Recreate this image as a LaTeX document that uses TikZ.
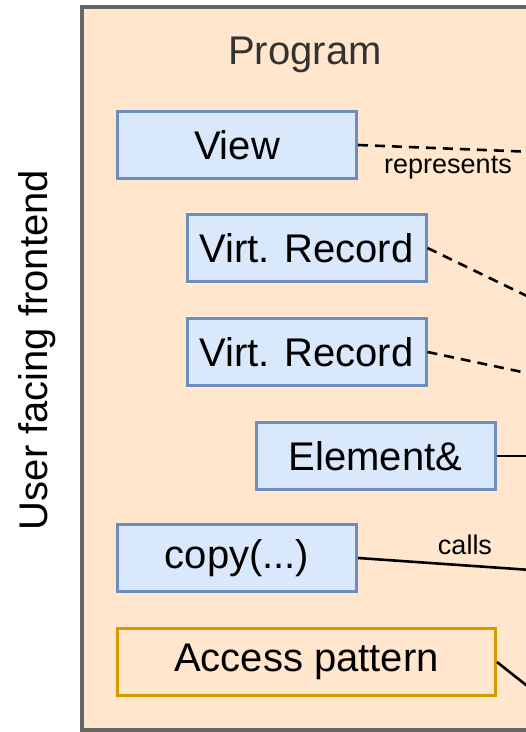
\documentclass[tikz,border=0pt]{standalone}
\usepackage{fontspec}
\setmainfont{Liberation Sans}
\usepackage{xcolor}
\usetikzlibrary{positioning,calc}

\definecolor{progfill}{HTML}{FFE6CC}
\definecolor{progline}{HTML}{666666}
\definecolor{boxfill}{HTML}{DAE8FC}
\definecolor{boxline}{HTML}{6C8EBF}
\definecolor{patline}{HTML}{D79B00}

\begin{document}
\begin{tikzpicture}[x=1pt, y=-1pt,
    box/.style={rectangle, draw=boxline, fill=boxfill, line width=3pt, minimum width=239pt, minimum height=67pt, inner sep=0pt, font=\fontsize{40}{48}\selectfont},
    patbox/.style={box, draw=patline, fill=progfill, minimum width=378pt},
    link/.style={line width=2.6pt, black},
    dlink/.style={link, dash pattern=on 10pt off 7pt},
    lbl/.style={font=\fontsize{27}{32}\selectfont, inner sep=0pt}
]
\clip (0,0) rectangle (526,732);

% Frame
\draw[progline, fill=progfill, line width=4pt] (82,7) rectangle (560,730);
\node[text=black!80, font=\fontsize{40}{48}\selectfont] (prog) at (305,55) {Program};
\node[rotate=90, font=\fontsize{40}{48}\selectfont] (side) at (37,350) {User facing frontend};

% Main boxes
\node[box] (view) at (237,145) {View};
\node[box] (rec1) at (306.5,248) {Virt. Record};
\node[box] (rec2) at (306.5,352) {Virt. Record};
\node[box] (elem) at (375.5,456) {Element\&};
\node[box] (copy) at (237,558) {copy(...)};
\node[patbox] (pat) at (306.5,662) {Access pattern};

% Free ends
\coordinate (viewEnd) at (560,153);
\coordinate (rec1End) at (560,312);
\coordinate (rec2End) at (560,380);
\coordinate (elemEnd) at (560,456);
\coordinate (copyEnd) at (560,572);
\coordinate (patEnd) at (560,712);

% Links
\draw[dlink] (view.east) -- (viewEnd);
\draw[dlink] (rec1.east) -- (rec1End);
\draw[dlink] (rec2.east) -- (rec2End);
\draw[link] (elem.east) -- (elemEnd);
\draw[link] (copy.east) -- (copyEnd);
\draw[link] (pat.east) -- (patEnd);

% Labels
\node[lbl] (repr) at (448,168) {represents};
\node[lbl] (calls) at (465,545) {calls};

\end{tikzpicture}
\end{document}
